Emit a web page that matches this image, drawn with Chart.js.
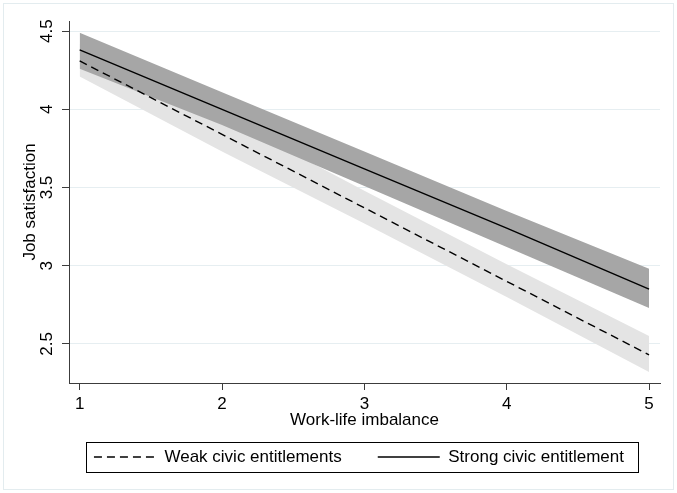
<!DOCTYPE html>
<html>
<head>
<meta charset="utf-8">
<script src="https://cdn.jsdelivr.net/npm/chart.js@4.4.1/dist/chart.umd.min.js"></script>
<style>
  html, body { margin: 0; background: #fff; }
  #wrap { width: 677px; height: 493px; }
</style>
</head>
<body>
<div id="wrap"><canvas id="margins"></canvas></div>
<script>
const imbalance = [1, 2, 3, 4, 5];
const weakFit = [4.31, 3.84, 3.37, 2.90, 2.43];
const weakLo = [4.21, 3.73, 3.27, 2.80, 2.32];
const weakHi = [4.42, 3.96, 3.48, 3.01, 2.55];
const strongFit = [4.38, 4.00, 3.62, 3.24, 2.85];
const strongLo = [4.26, 3.90, 3.51, 3.12, 2.73];
const strongHi = [4.49, 4.11, 3.73, 3.35, 2.98];
const yTicks = [2.5, 3, 3.5, 4, 4.5];

const pts = (ys) => ys.map((y, i) => ({ x: imbalance[i], y: y }));
const FONT = { family: "'Liberation Sans', Arial, sans-serif", size: 17 };
const AXIS = "#3c3c3c";

const band = (ys, fill, color, order) => ({
  data: pts(ys),
  fill: fill,
  backgroundColor: color,
  borderColor: "transparent",
  borderWidth: 0,
  pointRadius: 0,
  order: order,
});

// frame round the legend and the faint frame round the whole graph
const frames = {
  id: "frames",
  beforeDraw(chart) {
    const c = chart.ctx;
    c.save();
    c.strokeStyle = "#e3ecef";
    c.lineWidth = 1;
    c.strokeRect(3.5, 3.5, chart.width - 7, chart.height - 7);
    c.restore();
  },
  afterDraw(chart) {
    const hb = chart.legend.legendHitBoxes;
    if (!hb || !hb.length) return;
    const left = Math.min(...hb.map((h) => h.left)) - 8;
    const right = Math.max(...hb.map((h) => h.left + h.width)) + 14;
    const mid = hb[0].top + hb[0].height / 2;
    const c = chart.ctx;
    c.save();
    c.strokeStyle = "#000";
    c.lineWidth = 1;
    c.strokeRect(Math.round(left) + 0.5, Math.round(mid - 15) + 0.5, Math.round(right - left), 30);
    c.restore();
  },
};

new Chart(document.getElementById("margins"), {
  type: "line",
  data: {
    datasets: [
      band(weakHi, "+1", "#e4e4e4", 3),
      band(weakLo, false, "#e4e4e4", 3),
      band(strongHi, "+1", "#a6a6a6", 2),
      band(strongLo, false, "#a6a6a6", 2),
      {
        label: "Weak civic entitlements",
        data: pts(weakFit),
        borderColor: "#000",
        borderWidth: 1.4,
        borderDash: [8, 5],
        pointRadius: 0,
        fill: false,
        order: 1,
      },
      {
        label: "Strong civic entitlement",
        data: pts(strongFit),
        borderColor: "#000",
        borderWidth: 1.4,
        pointRadius: 0,
        fill: false,
        order: 1,
      },
    ],
  },
  options: {
    responsive: true,
    maintainAspectRatio: false,
    animation: false,
    layout: { padding: { top: 21, right: 17, bottom: 17.5, left: 0 } },
    plugins: {
      tooltip: { enabled: false },
      legend: {
        position: "bottom",
        align: "end",
        labels: {
          generateLabels: (chart) =>
            Chart.defaults.plugins.legend.labels.generateLabels(chart).map((l) => {
              const ds = chart.data.datasets[l.datasetIndex];
              return { ...l, lineDash: ds.borderDash || [], lineWidth: ds.borderWidth, strokeStyle: ds.borderColor };
            }),
          filter: (item) => item.datasetIndex >= 4,
          usePointStyle: true,
          pointStyle: "line",
          pointStyleWidth: 62,
          padding: 36,
          color: "#000",
          font: FONT,
        },
      },
    },
    scales: {
      x: {
        type: "linear",
        min: 0.925,
        max: 5.077,
        afterFit: (s) => { s.height = 29.5; },
        ticks: { stepSize: 1, includeBounds: false, maxRotation: 0, padding: 4, color: "#000", font: FONT },
        grid: { drawOnChartArea: false, tickLength: 7, tickColor: AXIS },
        border: { color: AXIS, width: 1 },
        title: { display: true, text: "Work-life imbalance", color: "#000", font: FONT, padding: { top: 0, bottom: -18 } },
      },
      y: {
        min: 2.25,
        max: 4.565,
        afterFit: (s) => { s.width = 69; },
        afterBuildTicks: (s) => { s.ticks = yTicks.map((v) => ({ value: v })); },
        ticks: { callback: (v) => String(v), minRotation: 90, maxRotation: 90, crossAlign: "center", padding: 3, color: "#000", font: FONT },
        grid: { color: "#e6eef1", tickLength: 7, tickColor: AXIS },
        border: { color: AXIS, width: 1 },
        title: { display: true, text: "Job satisfaction", color: "#000", font: FONT, padding: { top: 20, bottom: 0 } },
      },
    },
  },
  plugins: [frames],
});
</script>
</body>
</html>
